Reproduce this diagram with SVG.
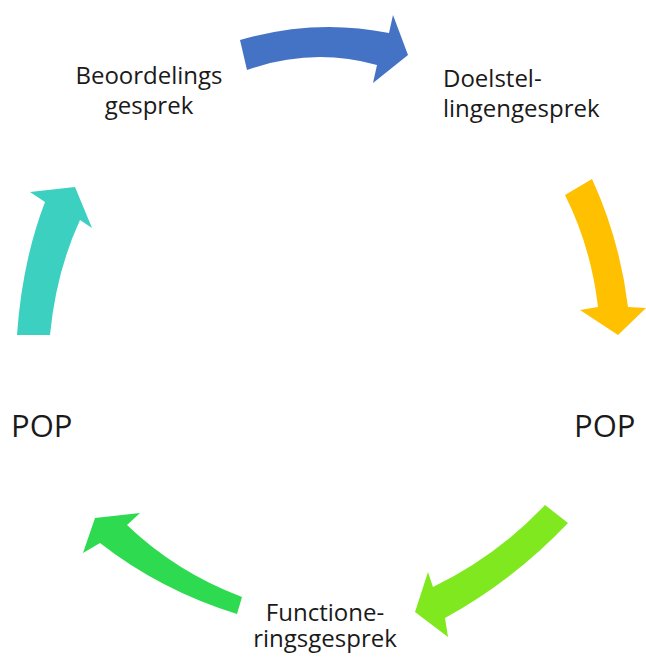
<svg xmlns="http://www.w3.org/2000/svg" width="646" height="657" viewBox="0 0 646 657">
<style>
.lbl{font-family:"Open Sans","Liberation Sans",sans-serif;font-size:24px;fill:#1a1a1a}
.pop{font-family:"Open Sans","Liberation Sans",sans-serif;font-size:31px;fill:#1a1a1a}
</style>
<rect width="646" height="657" fill="#ffffff"/>
<g id="connectors">
<path id="arrow-blue" fill="#4472C4" d="M240,40 Q315,18 389,33 L393,15 L408,55 L373,83 L377,65 Q312,47 247,70 Z"/>
<path id="arrow-orange" fill="#FFC000" d="M592,179 Q620,240 628,307 L646,308 L618,335 L580,310 L598,307 Q591,247 565,195 Z"/>
<path id="arrow-lime" fill="#80E81E" d="M568,523 Q514,580 445,618 L448,637 L415,612 L428,572 L433,587 Q497,556 545,505 Z"/>
<path id="arrow-green" fill="#2EDB50" d="M237,614 Q160,590 100,543 L83,553 L95,518 L140,513 L127,525 Q176,572 242,597 Z"/>
<path id="arrow-teal" fill="#3CD0C0" d="M17,335 Q22,262 45,202 L30,192 L75,187 L92,228 L80,220 Q56,272 50,335 Z"/>
</g>
<g id="node-beoordelings">
<text class="lbl" text-anchor="middle"><tspan x="149" y="84">Beoordelings</tspan><tspan x="149" y="114">gesprek</tspan></text>
</g>
<g id="node-doelstellingen">
<text class="lbl"><tspan x="443" y="87">Doelstel-</tspan><tspan x="443" y="117">lingengesprek</tspan></text>
</g>
<g id="node-pop-right">
<text class="pop" x="574" y="437">POP</text>
</g>
<g id="node-functionerings">
<text class="lbl" text-anchor="middle"><tspan x="325" y="621">Functione-</tspan><tspan x="325" y="647">ringsgesprek</tspan></text>
</g>
<g id="node-pop-left">
<text class="pop" x="11" y="437">POP</text>
</g>
</svg>
